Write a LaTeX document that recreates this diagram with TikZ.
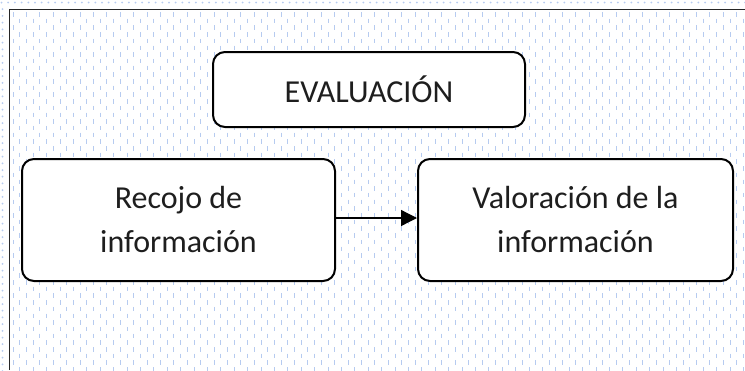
\documentclass[tikz,border=0pt]{standalone}
\usepackage{fontspec}
\setmainfont{Carlito}
\usetikzlibrary{arrows.meta}
\definecolor{patblue}{RGB}{182,203,240}
\definecolor{txtgrey}{RGB}{30,30,30}
\tikzset{
  box/.style={draw=black, line width=2pt, rounded corners=12pt, fill=white,
    align=center, text=txtgrey, font=\fontsize{32}{44}\selectfont, inner sep=0pt},
  conn/.style={line width=1.3pt, -{Triangle[length=16pt,width=16pt]}}
}
\begin{document}
\begin{tikzpicture}[x=1pt,y=-1pt]
\useasboundingbox (0,0) rectangle (745,370);
\fill[white] (0,0) rectangle (745,370);
% outer dots
\foreach \i in {0,...,111} {\fill[patblue] (1.5+\i*6.7,2.5) circle (1);}
\foreach \j in {1,...,55} {\fill[patblue] (2.5,2.5+\j*6.7) circle (1);}
% inner dashes
\begin{scope}[patblue, line width=0.8pt]
\foreach \r in {0,...,54} {
  \pgfmathsetmacro{\yy}{12+\r*6.7}
  \pgfmathsetmacro{\off}{mod(\r,2)*6.7}
  \foreach \c in {0,...,56} {
    \draw (13+\off+\c*13.4,\yy) -- ++(0,4.5);
  }
}
\end{scope}
% frame
\draw[black!85, line width=1pt] (9.5,370) -- (9.5,9.5) -- (745,9.5);
% boxes
\node[box, minimum width=312pt, minimum height=75pt] (ev) at (369,89.5) {EVALUACIÓN};
\node[box, minimum width=313pt, minimum height=122pt] (rec) at (178.5,220) {Recojo de\\información};
\node[box, minimum width=315pt, minimum height=122pt] (val) at (575.5,220) {Valoración de la\\información};
\draw[conn] ([yshift=2pt]rec.east) -- ([yshift=2pt]val.west);
\end{tikzpicture}
\end{document}
